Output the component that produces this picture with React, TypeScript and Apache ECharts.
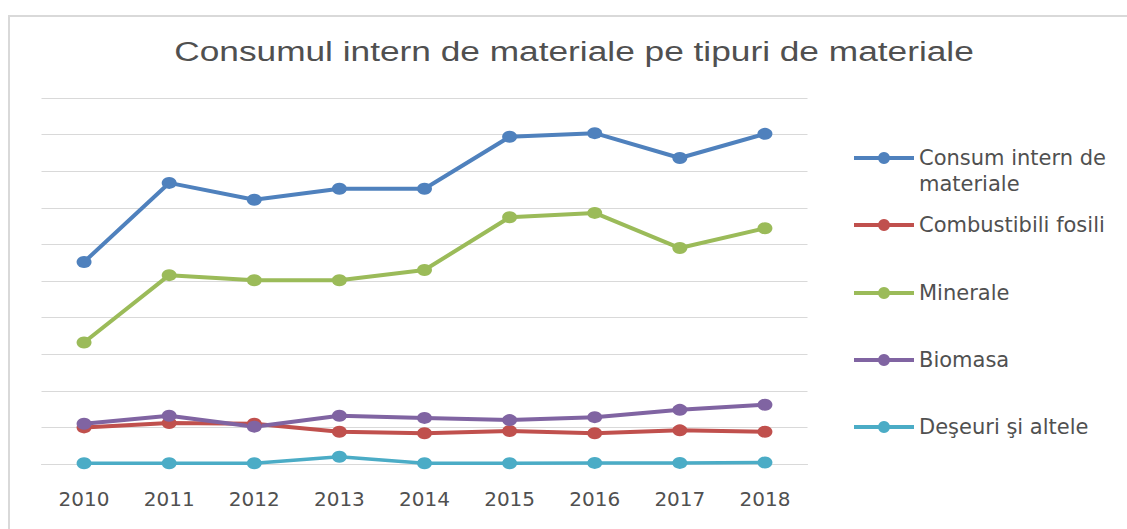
import React, { useEffect, useRef } from "react";
import * as echarts from "echarts";

const years = ["2010", "2011", "2012", "2013", "2014", "2015", "2016", "2017", "2018"];
const consumIntern = [276, 384, 361, 376, 376, 447, 452, 418, 451];
const combustibili = [50, 56, 55, 44, 42, 45, 42, 46, 44];
const minerale = [166, 258, 251, 251, 265, 337, 343, 295, 322];
const biomasa = [55, 66, 51, 66, 63, 60, 64, 74, 81];
const deseuri = [1, 1, 1, 10, 1, 1, 1.5, 1.5, 2];

const seriesNames = [
  "Consum intern de materiale",
  "Combustibili fosili",
  "Minerale",
  "Biomasa",
  "Deşeuri şi altele",
];
const seriesData = [consumIntern, combustibili, minerale, biomasa, deseuri];
const colors = ["#4f81bd", "#c0504d", "#9bbb59", "#8064a2", "#4bacc6"];
const legendTops = [119, 212, 280, 347, 414];

export default function App() {
  const ref = useRef<HTMLDivElement>(null);
  useEffect(() => {
    if (!ref.current) return;
    const chart = echarts.init(ref.current, undefined, { renderer: "svg" });
    const legendText = {
      fontFamily: "DejaVu Sans",
      fontSize: 21,
      color: "#505050",
      lineHeight: 26,
    };
    chart.setOption({
      animation: false,
      backgroundColor: "#ffffff",
      color: colors,
      graphic: [
        {
          type: "rect",
          shape: { x: 9, y: 16, width: 1140, height: 540 },
          style: { fill: "none", stroke: "#d9d9d9", lineWidth: 2 },
          silent: true,
        },
        {
          type: "text",
          x: 574,
          y: 51,
          scaleX: 1.26,
          style: {
            text: "Consumul intern de materiale pe tipuri de materiale",
            font: '28px "Liberation Sans"',
            fill: "#505050",
            align: "center",
            verticalAlign: "middle",
          },
        },
      ],
      grid: { left: 41.5, right: 319.5, top: 98, bottom: 65 },
      xAxis: {
        type: "category",
        data: years,
        boundaryGap: true,
        axisLine: { lineStyle: { color: "#d9d9d9", width: 1 } },
        axisTick: { show: false },
        axisLabel: {
          fontFamily: "DejaVu Sans",
          fontSize: 20,
          color: "#505050",
          margin: 25,
        },
      },
      yAxis: {
        type: "value",
        min: 0,
        max: 500,
        interval: 50,
        axisLabel: { show: false },
        axisLine: { show: false },
        axisTick: { show: false },
        splitLine: { lineStyle: { color: "#d9d9d9", width: 1 } },
      },
      legend: seriesNames.map((name, i) => ({
        data: [name],
        left: 852,
        top: legendTops[i],
        orient: "vertical",
        padding: 0,
        itemWidth: 60,
        itemHeight: 15,
        itemGap: 0,
        selectedMode: false,
        lineStyle: { width: 4 },
        formatter: i === 0 ? () => " \nConsum intern de\nmateriale" : undefined,
        textStyle: legendText,
      })),
      series: seriesNames.map((name, i) => ({
        name,
        type: "line",
        data: seriesData[i],
        symbol: "circle",
        symbolSize: [15, 12],
        lineStyle: { width: i === 4 ? 3.5 : 4, color: colors[i] },
        itemStyle: { color: colors[i] },
      })),
    });
    return () => chart.dispose();
  }, []);
  return (
    <div
      ref={ref}
      style={{ position: "absolute", left: 0, top: 0, width: 1127, height: 529 }}
    />
  );
}
